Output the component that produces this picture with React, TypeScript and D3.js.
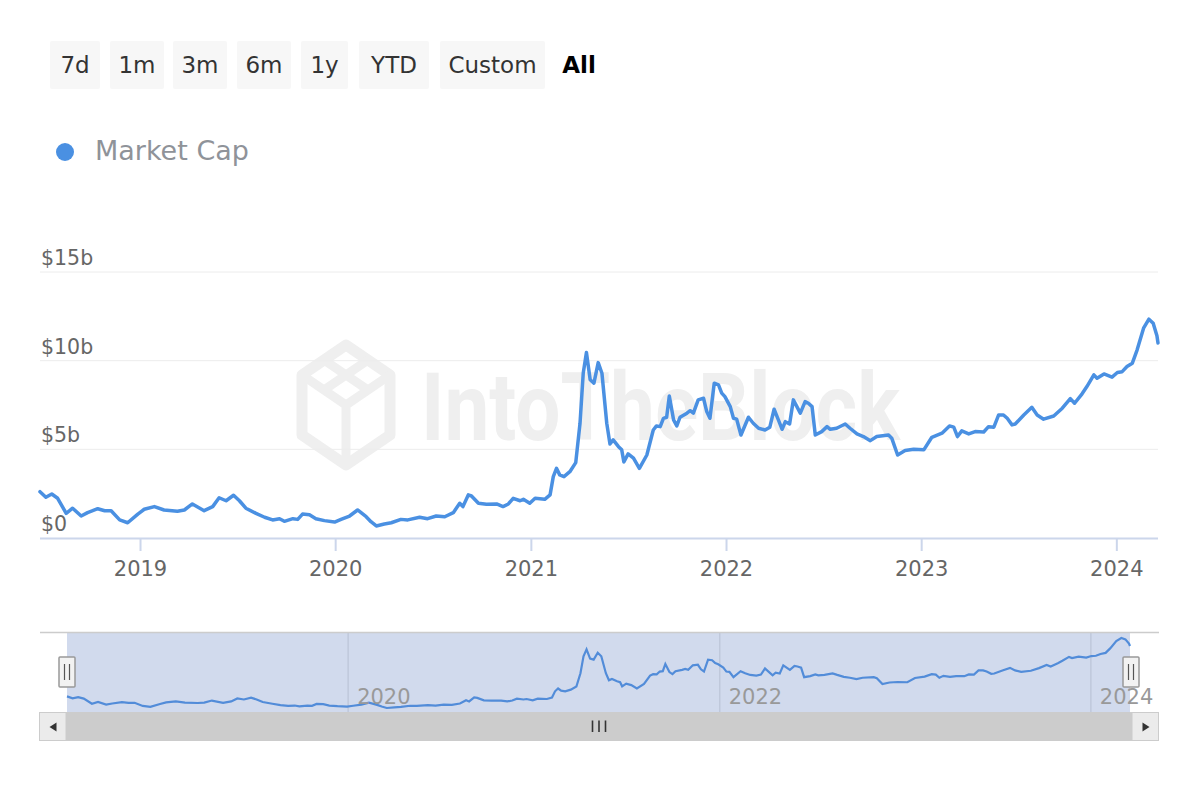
import React from "react";
import * as d3 from "d3";

const rangeButtons = ["7d", "1m", "3m", "6m", "1y", "YTD", "Custom"];
const selectedButton = "All";
const seriesName = "Market Cap";
const yTickValues = [0, 5, 10, 15];
const yTickLabels = ["$0", "$5b", "$10b", "$15b"];
const xTickYears = [2019, 2020, 2021, 2022, 2023, 2024];
const navTickYears = [2020, 2022, 2024];
const watermarkText = "IntoTheBlock";

const dates = [
  "2018-06-27","2018-07-08","2018-07-19","2018-07-30","2018-08-15","2018-08-27","2018-09-12","2018-09-24","2018-10-13","2018-10-26","2018-11-07","2018-11-23","2018-12-08","2018-12-27",
  "2019-01-08","2019-01-27","2019-02-14","2019-03-11","2019-03-24","2019-04-08","2019-04-30","2019-05-16","2019-05-28","2019-06-10","2019-06-24","2019-07-05","2019-07-17","2019-08-05","2019-08-21","2019-09-05","2019-09-18","2019-09-27","2019-10-13","2019-10-22","2019-10-31","2019-11-13","2019-11-25","2019-12-11","2019-12-30",
  "2020-01-11","2020-01-27","2020-02-11","2020-02-27","2020-03-07","2020-03-17","2020-04-01","2020-04-14","2020-05-02","2020-05-15","2020-06-06","2020-06-21","2020-07-07","2020-07-23","2020-08-08","2020-08-20","2020-08-26","2020-09-05","2020-09-11","2020-09-24","2020-10-09","2020-10-28","2020-11-09","2020-11-19","2020-11-28","2020-12-11","2020-12-17","2020-12-29",
  "2021-01-08","2021-01-26","2021-02-05","2021-02-11","2021-02-17","2021-02-23","2021-03-03","2021-03-14","2021-03-25","2021-04-02","2021-04-08","2021-04-14","2021-04-21","2021-04-28","2021-05-06","2021-05-13","2021-05-22","2021-05-28","2021-06-03","2021-06-13","2021-06-19","2021-06-23","2021-07-01","2021-07-11","2021-07-22","2021-08-05","2021-08-17","2021-08-23","2021-08-30","2021-09-05","2021-09-11","2021-09-16","2021-09-24","2021-09-30","2021-10-06","2021-10-19","2021-10-25","2021-10-31","2021-11-09","2021-11-19","2021-11-25","2021-12-01","2021-12-09","2021-12-17","2021-12-23","2021-12-29",
  "2022-01-08","2022-01-14","2022-01-20","2022-01-28","2022-02-11","2022-02-20","2022-03-02","2022-03-14","2022-03-23","2022-03-31","2022-04-08","2022-04-15","2022-04-21","2022-04-29","2022-05-06","2022-05-19","2022-05-28","2022-06-03","2022-06-10","2022-06-16","2022-06-28","2022-07-08","2022-07-14","2022-07-26","2022-08-11","2022-08-20","2022-09-02","2022-09-14","2022-09-27","2022-10-09","2022-10-31","2022-11-06","2022-11-17","2022-12-01","2022-12-17",
  "2023-01-05","2023-01-20","2023-02-08","2023-02-22","2023-03-02","2023-03-09","2023-03-17","2023-03-30","2023-04-11","2023-04-27","2023-05-06","2023-05-16","2023-05-25","2023-06-03","2023-06-10","2023-06-19","2023-06-25","2023-07-11","2023-07-26","2023-08-05","2023-08-17","2023-09-05","2023-09-21","2023-10-06","2023-10-14","2023-10-28","2023-11-06","2023-11-19","2023-11-25","2023-12-08","2023-12-23",
  "2024-01-02","2024-01-11","2024-01-20","2024-01-30","2024-02-08","2024-02-20","2024-03-01","2024-03-09","2024-03-16","2024-03-18"
];

const values = [
  2.61,2.30,2.48,2.24,1.39,1.68,1.24,1.43,1.65,1.54,1.54,1.02,0.86,1.35,
  1.62,1.77,1.58,1.51,1.58,1.92,1.54,1.77,2.27,2.10,2.41,2.10,1.68,1.39,1.17,1.02,1.09,0.94,1.09,1.05,1.35,1.31,1.09,0.98,0.90,
  1.05,1.24,1.58,1.20,0.92,0.68,0.79,0.86,1.05,1.02,1.17,1.09,1.24,1.20,1.43,1.96,1.77,2.43,2.37,1.96,1.90,1.92,1.77,1.92,2.24,2.10,2.18,1.96,
  2.24,2.18,2.43,3.46,3.93,3.56,3.46,3.74,4.25,6.47,9.29,10.46,8.92,8.73,9.89,9.29,6.47,5.30,5.53,5.15,4.97,4.29,4.74,4.50,3.93,4.68,6.09,6.32,6.28,6.75,6.81,8.01,6.66,6.32,6.81,7.04,7.18,7.04,7.79,7.88,7.13,6.75,8.73,8.63,8.17,7.97,
  7.41,6.75,6.70,5.81,6.81,6.47,6.19,6.09,6.25,7.26,6.66,6.13,6.56,6.43,7.79,7.04,7.69,7.60,7.41,5.81,6.00,6.28,6.13,6.19,6.43,6.19,5.87,5.72,5.49,5.72,5.81,5.63,4.68,4.93,5.01,
  4.97,5.68,5.91,6.32,6.25,5.72,6.04,5.87,6.00,5.98,6.28,6.25,6.94,6.94,6.75,6.38,6.43,6.94,7.37,6.94,6.70,6.88,7.32,7.86,7.60,8.13,8.54,9.20,9.01,9.25,9.07,
  9.33,9.38,9.67,9.86,10.61,11.83,12.34,12.11,11.40,11.00
];

const FONT = "'DejaVu Sans', sans-serif";
const LINE_COLOR = "#4a90e2";

type Pt = { date: Date; value: number };

export default function App() {
  const parse = d3.utcParse("%Y-%m-%d");
  const data: Pt[] = dates.map((d, i) => ({ date: parse(d) as Date, value: values[i] }));
  const ext = d3.extent(data, (d) => d.date) as [Date, Date];

  // main plot
  const left = 40, right = 1158;
  const x = d3.scaleUtc().domain(ext).range([left, right]);
  const y = d3.scaleLinear().domain([0, 15]).range([538, 272]);
  const line = d3.line<Pt>().x((d) => x(d.date)).y((d) => y(d.value));

  // navigator
  const navTop = 632.5, navBottom = 712;
  const xn = d3.scaleUtc().domain(ext).range([67, 1130]);
  const yn = d3.scaleLinear().domain(d3.extent(values) as [number, number]).range([708, 638]);
  const navLine = d3.line<Pt>().x((d) => xn(d.date)).y((d) => yn(d.value));

  const btnX = [50, 110, 173, 237, 301, 359, 440];
  const btnW = [50, 54, 54, 54, 47, 70, 105];
  const btnTop = 41, btnH = 48;

  const handle = (cx: number, key: string) => (
    <g key={key}>
      <rect x={cx - 8} y={657} width={16} height={30} fill="#f2f2f2" stroke="#999" strokeWidth={1.5} rx={1} />
      <line x1={cx - 2.5} x2={cx - 2.5} y1={664} y2={680} stroke="#555" strokeWidth={1.2} />
      <line x1={cx + 2.5} x2={cx + 2.5} y1={664} y2={680} stroke="#555" strokeWidth={1.2} />
    </g>
  );

  // hexagon logo for watermark
  const hx = 346, hy = 405, rx = 44, ry = 60;
  const hex = [
    [hx, hy - ry], [hx + rx, hy - ry / 2], [hx + rx, hy + ry / 2],
    [hx, hy + ry], [hx - rx, hy + ry / 2], [hx - rx, hy - ry / 2],
  ];
  const hexPath = "M" + hex.map((p) => p.join(",")).join("L") + "Z";

  return (
    <svg
      width={1200}
      height={800}
      style={{ position: "absolute", left: 0, top: 0, background: "#fff" }}
      fontFamily={FONT}
    >
      <rect x={0} y={0} width={1200} height={800} fill="#fff" />

      {/* range selector */}
      {rangeButtons.map((b, i) => (
        <g key={b}>
          <rect x={btnX[i]} y={btnTop} width={btnW[i]} height={btnH} fill="#f7f7f7" rx={2} />
          <text
            x={btnX[i] + btnW[i] / 2}
            y={btnTop + btnH / 2 + 8}
            textAnchor="middle"
            fontSize={23}
            fill="#333"
          >
            {b}
          </text>
        </g>
      ))}
      <text x={579} y={btnTop + btnH / 2 + 8} textAnchor="middle" fontSize={23} fontWeight="bold" fill="#000">
        {selectedButton}
      </text>

      {/* legend */}
      <circle cx={65} cy={152} r={9} fill={LINE_COLOR} />
      <text x={95} y={160} fontSize={27} fill="#8f9399">{seriesName}</text>

      {/* watermark */}
      <g>
        <path d={hexPath} fill="none" stroke="#efefef" strokeWidth={11} strokeLinejoin="round" />
        <path
          d={`M${hx - rx},${hy - ry / 2}L${hx},${hy}L${hx + rx},${hy - ry / 2}M${hx},${hy}L${hx},${hy + ry}M${hx - rx / 2},${hy - ry * 0.75}L${hx + rx / 2},${hy - ry / 4}M${hx + rx / 2},${hy - ry * 0.75}L${hx - rx / 2},${hy - ry / 4}`}
          fill="none"
          stroke="#efefef"
          strokeWidth={9}
        />
        <text
          x={421}
          y={440}
          fontSize={95}
          fontWeight="bold"
          fontFamily="Roboto, 'DejaVu Sans', sans-serif"
          fill="#efefef"
          textLength={479}
          lengthAdjust="spacingAndGlyphs"
        >
          {watermarkText}
        </text>
      </g>

      {/* grid + y labels */}
      {yTickValues.map((v, i) => (
        <g key={v}>
          {v !== 0 && (
            <line x1={left} x2={right} y1={y(v)} y2={y(v)} stroke="#ececec" strokeWidth={1} />
          )}
          <text x={41} y={y(v) - 7} fontSize={20.5} fill="#666">
            {yTickLabels[i]}
          </text>
        </g>
      ))}

      {/* x axis */}
      <line x1={left} x2={right} y1={538.5} y2={538.5} stroke="#ccd6eb" strokeWidth={2} />
      {xTickYears.map((yr) => {
        const tx = x(new Date(Date.UTC(yr, 0, 1)));
        return (
          <g key={yr}>
            <line x1={tx} x2={tx} y1={538} y2={551} stroke="#ccd6eb" strokeWidth={2} />
            <text x={tx} y={576} textAnchor="middle" fontSize={21} fill="#666">
              {yr}
            </text>
          </g>
        );
      })}

      {/* main series */}
      <path d={line(data) || ""} fill="none" stroke={LINE_COLOR} strokeWidth={3.5} strokeLinejoin="round" strokeLinecap="round" />

      {/* navigator */}
      <g>
        {navTickYears.map((yr) => {
          const tx = xn(new Date(Date.UTC(yr, 0, 1)));
          return (
            <line key={yr} x1={tx} x2={tx} y1={navTop} y2={navBottom} stroke="#e6e6e6" strokeWidth={1.5} />
          );
        })}
        <path d={navLine(data) || ""} fill="none" stroke={LINE_COLOR} strokeWidth={2.2} />
        <rect x={67} y={navTop} width={1130 - 67} height={navBottom - navTop} fill="rgba(102,133,194,0.3)" />
        {navTickYears.map((yr) => {
          const tx = xn(new Date(Date.UTC(yr, 0, 1)));
          return (
            <text key={yr} x={tx + 9} y={704} fontSize={21} fill="#999">
              {yr}
            </text>
          );
        })}
        <line x1={left} x2={right + 1} y1={navTop} y2={navTop} stroke="#cccccc" strokeWidth={1.5} />
      </g>

      {/* scrollbar */}
      <g>
        <rect x={66} y={712} width={1132 - 66} height={29} fill="#cccccc" />
        <rect x={39.5} y={712.5} width={26.5} height={28} fill="#ebebeb" stroke="#cccccc" strokeWidth={1} />
        <rect x={1132} y={712.5} width={26.5} height={28} fill="#ebebeb" stroke="#cccccc" strokeWidth={1} />
        <path d="M49.5,727 L56.5,722.5 L56.5,731.5 Z" fill="#333" />
        <path d="M1149.5,727 L1142.5,722.5 L1142.5,731.5 Z" fill="#333" />
        {[-6.5, 0, 6.5].map((dx) => (
          <line key={dx} x1={599 + dx} x2={599 + dx} y1={720.5} y2={732} stroke="#333" strokeWidth={1.6} />
        ))}
      </g>

      {handle(67, "hl")}
      {handle(1131, "hr")}
    </svg>
  );
}
